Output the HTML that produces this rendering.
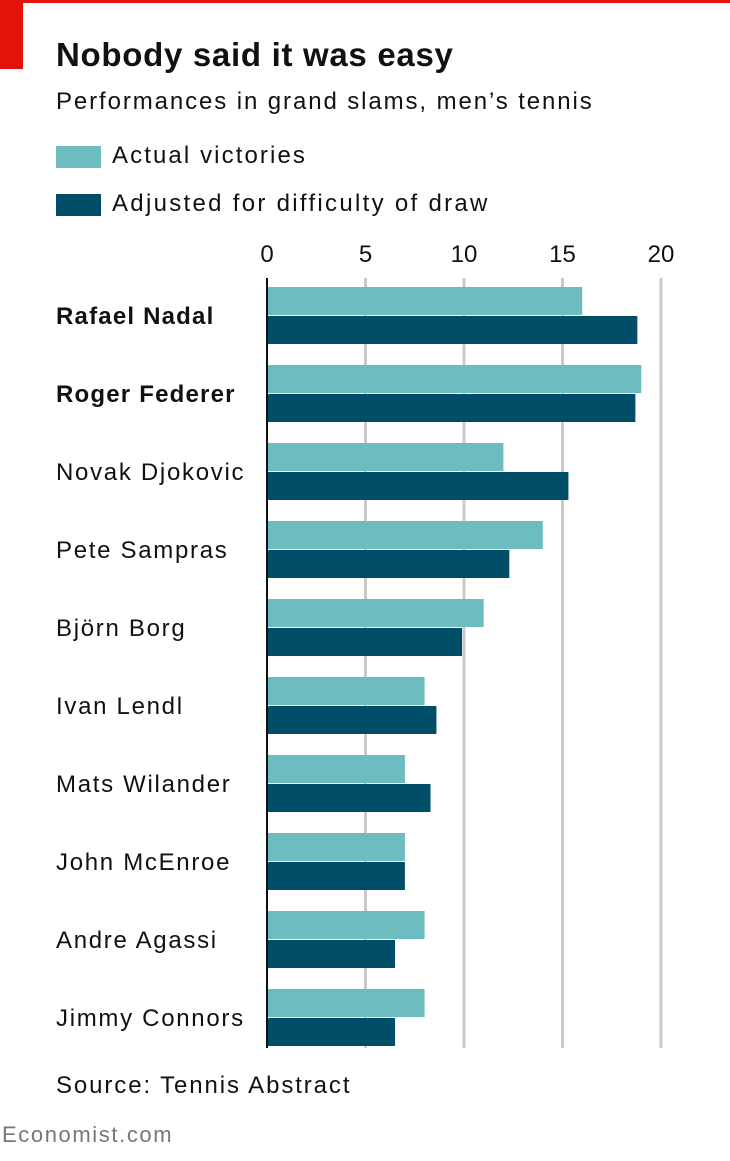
<!DOCTYPE html>
<html><head><meta charset="utf-8"><style>
body{margin:0;width:730px;height:1161px;background:#fff;overflow:hidden;font-family:"Liberation Sans","DejaVu Sans",sans-serif;position:relative}
.t{position:absolute;white-space:nowrap;color:#111;letter-spacing:1.9px}
</style></head><body>
<div style="position:absolute;left:0;top:0;width:730px;height:3px;background:#e3120b"></div>
<div style="position:absolute;left:0;top:0;width:23px;height:69px;background:#e3120b"></div>
<div class="t" style="left:56px;top:36px;font-size:33px;font-weight:bold;letter-spacing:0.7px">Nobody said it was easy</div>
<div class="t" style="left:56px;top:88px;font-size:24px">Performances in grand slams, men’s tennis</div>
<div style="position:absolute;left:56px;top:146px;width:45px;height:22px;background:#6dbcc0"></div>
<div class="t" style="left:112px;top:142px;font-size:24px;letter-spacing:2.1px">Actual victories</div>
<div style="position:absolute;left:56px;top:194px;width:45px;height:22px;background:#004d67"></div>
<div class="t" style="left:112px;top:190px;font-size:24px;letter-spacing:2.3px">Adjusted for difficulty of draw</div>
<svg id="chart" width="730" height="1161" style="position:absolute;left:0;top:0"></svg>
<div class="t" style="left:56px;top:1072px;font-size:24px">Source: Tennis Abstract</div>
<div class="t" style="left:2px;top:1122px;font-size:22px;color:#777;letter-spacing:1.6px">Economist.com</div>
<script>
const players=["Rafael Nadal","Roger Federer","Novak Djokovic","Pete Sampras","Björn Borg","Ivan Lendl","Mats Wilander","John McEnroe","Andre Agassi","Jimmy Connors"];
const actual=[16,19,12,14,11,8,7,7,8,8];
const adjusted=[18.8,18.7,15.3,12.3,9.9,8.6,8.3,7,6.5,6.5];
const ticks=[0,5,10,15,20];
const bold=[true,true,false,false,false,false,false,false,false,false];
const svg=document.getElementById('chart');
const NS='http://www.w3.org/2000/svg';
const x=v=>267+v*19.7;
const y=i=>287+i*78;
function mk(t,a){const e=document.createElementNS(NS,t);for(const k in a)e.setAttribute(k,a[k]);svg.appendChild(e);return e;}
ticks.forEach(t=>{
 if(t>0){const g=mk('line',{x1:x(t),x2:x(t),y1:278,y2:1048,stroke:'#c9c9c9','stroke-width':3});
 
 }
 const l=mk('text',{x:x(t),y:262,'text-anchor':'middle','font-size':24,fill:'#111','font-family':'Liberation Sans, sans-serif'});
 l.textContent=t;
 
 
});
players.forEach((p,i)=>{
 const a=mk('rect',{x:x(0),y:y(i),width:x(actual[i])-x(0),height:28,fill:'#6dbcc0'});
 
 
 const b=mk('rect',{x:x(0),y:y(i)+29,width:x(adjusted[i])-x(0),height:28,fill:'#004d67'});
 
 
 const t=mk('text',{x:56,y:y(i)+37,'font-size':24,fill:'#111','font-weight':bold[i]?'bold':'normal','letter-spacing':bold[i]?'1.2px':'1.7px','font-family':'Liberation Sans, sans-serif'});
 t.textContent=p;
 
 
});
const ax=mk('line',{x1:x(0),x2:x(0),y1:278,y2:1048,stroke:'#111','stroke-width':2});


</script>
</body></html>
